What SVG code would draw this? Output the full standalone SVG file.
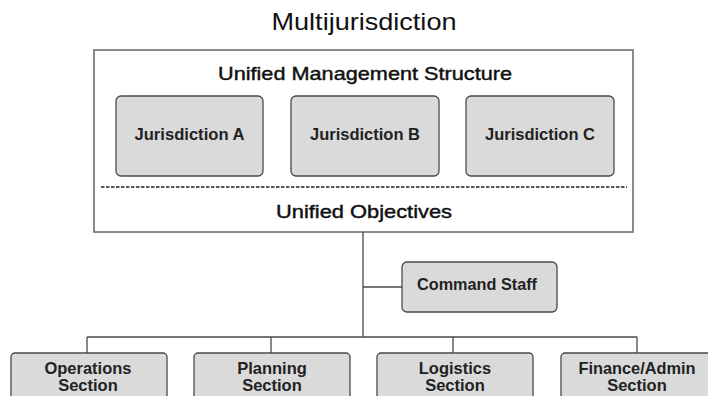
<svg xmlns="http://www.w3.org/2000/svg" width="708" height="396" viewBox="0 0 708 396">
<style>
.box{fill:#dadadb;stroke:#4a4a4a;stroke-width:1.3}
.ln{fill:none;stroke:#4a4a4a;stroke-width:1.3}
.lb{font-family:"Liberation Sans",Arial,sans-serif;font-weight:bold;fill:#222;text-anchor:middle}
.hd{font-family:"Liberation Sans",Arial,sans-serif;fill:#111;text-anchor:middle}
.sb{stroke:#111;stroke-width:0.45}
</style>
<rect width="708" height="396" fill="#fff"/>
<text class="hd" x="364" y="30" font-size="24" textLength="185" lengthAdjust="spacingAndGlyphs">Multijurisdiction</text>
<g id="umbrella">
<rect x="94" y="50" width="539" height="182" fill="#fff" stroke="#666" stroke-width="1.5"/>
<text class="hd sb" x="365" y="80" font-size="19" textLength="294" lengthAdjust="spacingAndGlyphs">Unified Management Structure</text>
<line x1="101" y1="187" x2="627" y2="187" stroke="#222" stroke-width="1.6" stroke-dasharray="3.5,1.5"/>
<text class="hd sb" x="364" y="218" font-size="19" textLength="176" lengthAdjust="spacingAndGlyphs">Unified Objectives</text>
</g>
<g id="jurA"><rect class="box" x="116" y="96" width="147" height="80" rx="5"/><text class="lb" x="189.5" y="140" font-size="16" textLength="110" lengthAdjust="spacingAndGlyphs">Jurisdiction A</text></g>
<g id="jurB"><rect class="box" x="291" y="96" width="148" height="80" rx="5"/><text class="lb" x="365" y="140" font-size="16" textLength="110" lengthAdjust="spacingAndGlyphs">Jurisdiction B</text></g>
<g id="jurC"><rect class="box" x="466" y="96" width="148" height="80" rx="5"/><text class="lb" x="540" y="140" font-size="16" textLength="110" lengthAdjust="spacingAndGlyphs">Jurisdiction C</text></g>
<g id="connectors">
<path class="ln" d="M363,232 V337 M363,287 H402 M87,337 H637 M87,337 V353 M271,337 V353 M453,337 V353 M637,337 V353"/>
</g>
<g id="cmdstaff"><rect class="box" x="402" y="262" width="155" height="50" rx="5"/><text class="lb" x="477" y="290" font-size="16" textLength="120" lengthAdjust="spacingAndGlyphs">Command Staff</text></g>
<g id="ops"><rect class="box" x="11" y="353" width="156" height="60" rx="4"/><text class="lb" x="88" y="374" font-size="16.5">Operations</text><text class="lb" x="88" y="391" font-size="16.5">Section</text></g>
<g id="plan"><rect class="box" x="194" y="353" width="156" height="60" rx="4"/><text class="lb" x="272" y="374" font-size="16.5">Planning</text><text class="lb" x="272" y="391" font-size="16.5">Section</text></g>
<g id="log"><rect class="box" x="377" y="353" width="156" height="60" rx="4"/><text class="lb" x="455" y="374" font-size="16.5">Logistics</text><text class="lb" x="455" y="391" font-size="16.5">Section</text></g>
<g id="fin"><rect class="box" x="561" y="353" width="156" height="60" rx="4"/><text class="lb" x="637" y="374" font-size="16.5" textLength="117" lengthAdjust="spacingAndGlyphs">Finance/Admin</text><text class="lb" x="637" y="391" font-size="16.5">Section</text></g>
</svg>
